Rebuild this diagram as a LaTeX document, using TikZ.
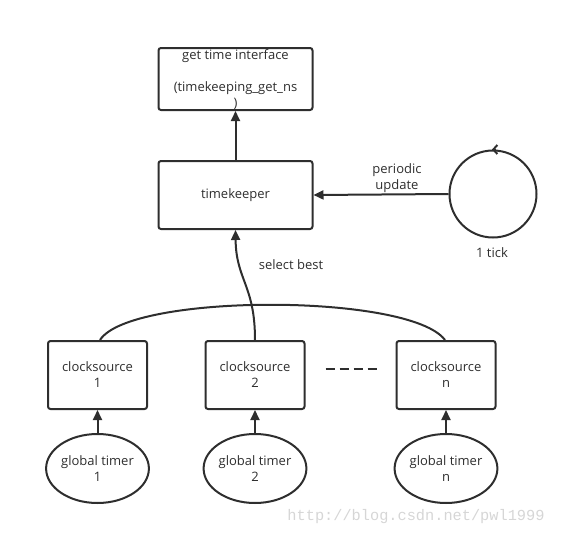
\documentclass[tikz,border=0pt]{standalone}
\usepackage{fontspec}
\setmainfont{Open Sans}
\setmonofont{Liberation Mono}
\usetikzlibrary{arrows.meta,shapes.geometric}
\definecolor{ink}{HTML}{2E2E2E}
\definecolor{wm}{HTML}{D6D6D6}
\tikzset{
  base/.style={draw=ink, line width=2pt, text=ink, font=\fontsize{13}{16}\selectfont, align=center, inner sep=0pt},
  box/.style={base, rectangle, rounded corners=2.5pt, minimum width=99pt, minimum height=68pt},
  bigbox/.style={box, minimum width=154pt},
  oval/.style={base, ellipse, minimum width=99pt, minimum height=69pt},
  lbl/.style={text=ink, font=\fontsize{13}{16}\selectfont, align=center, inner sep=0pt},
  conn/.style={draw=ink, line width=2pt, -{Triangle[length=10pt,width=9pt]}},
  plain/.style={draw=ink, line width=2pt},
}
\begin{document}
\begin{tikzpicture}[x=1pt,y=-1pt]
\useasboundingbox (0,0) rectangle (568,536);
\node[bigbox, minimum height=62pt] (gti) at (235.5,79) {};
\node[lbl, anchor=north] (gtit) at (235.5,49) {get time interface\\[16pt](timekeeping\_get\_ns\\)};
\node[bigbox] (tk) at (235.5,195) {timekeeper};
\node[base, circle, minimum size=87pt] (tick) at (493,194) {};
\node[lbl] (ticklbl) at (492,253) {1 tick};
\node[lbl] (pu) at (397,178) {periodic\\update};
\node[lbl] (sb) at (291,265) {select best};

\node[box] (cs1) at (97.5,375) {clocksource\\1};
\node[box] (cs2) at (255,375) {clocksource\\2};
\node[box] (csn) at (446,375) {clocksource\\n};

\node[oval] (gt1) at (97.5,468.5) {global timer\\1};
\node[oval] (gt2) at (255,468.5) {global timer\\2};
\node[oval] (gtn) at (446,468.5) {global timer\\n};

\draw[conn] (tk.north) -- (gti.south);
\draw[conn] (tick.west) -- (tk.east);
\draw[plain, -{Straight Barb[length=4pt,width=9pt]}] ([xshift=3pt]tick.north) -- ([xshift=-1pt]tick.north);

\coordinate (a1) at (100,340);
\coordinate (an) at (445,340);
\draw[plain] (a1) .. controls (130,293) and (410,293) .. (an);
\draw[conn] (cs2.north) .. controls (255,285) and (236,280) .. (tk.south);

\draw[plain, dash pattern=on 9pt off 5pt] (cs2.east) ++(20pt,6pt) coordinate (d1) -- ++(53pt,0) coordinate (d2);

\draw[conn] (gt1.north) -- (cs1.south);
\draw[conn] (gt2.north) -- (cs2.south);
\draw[conn] (gtn.north) -- (csn.south);

\node[text=wm, font=\ttfamily\fontsize{15.3}{16}\selectfont, inner sep=0pt] (wmk) at (416,517) {http://blog.csdn.net/pwl1999};
\end{tikzpicture}
\end{document}
